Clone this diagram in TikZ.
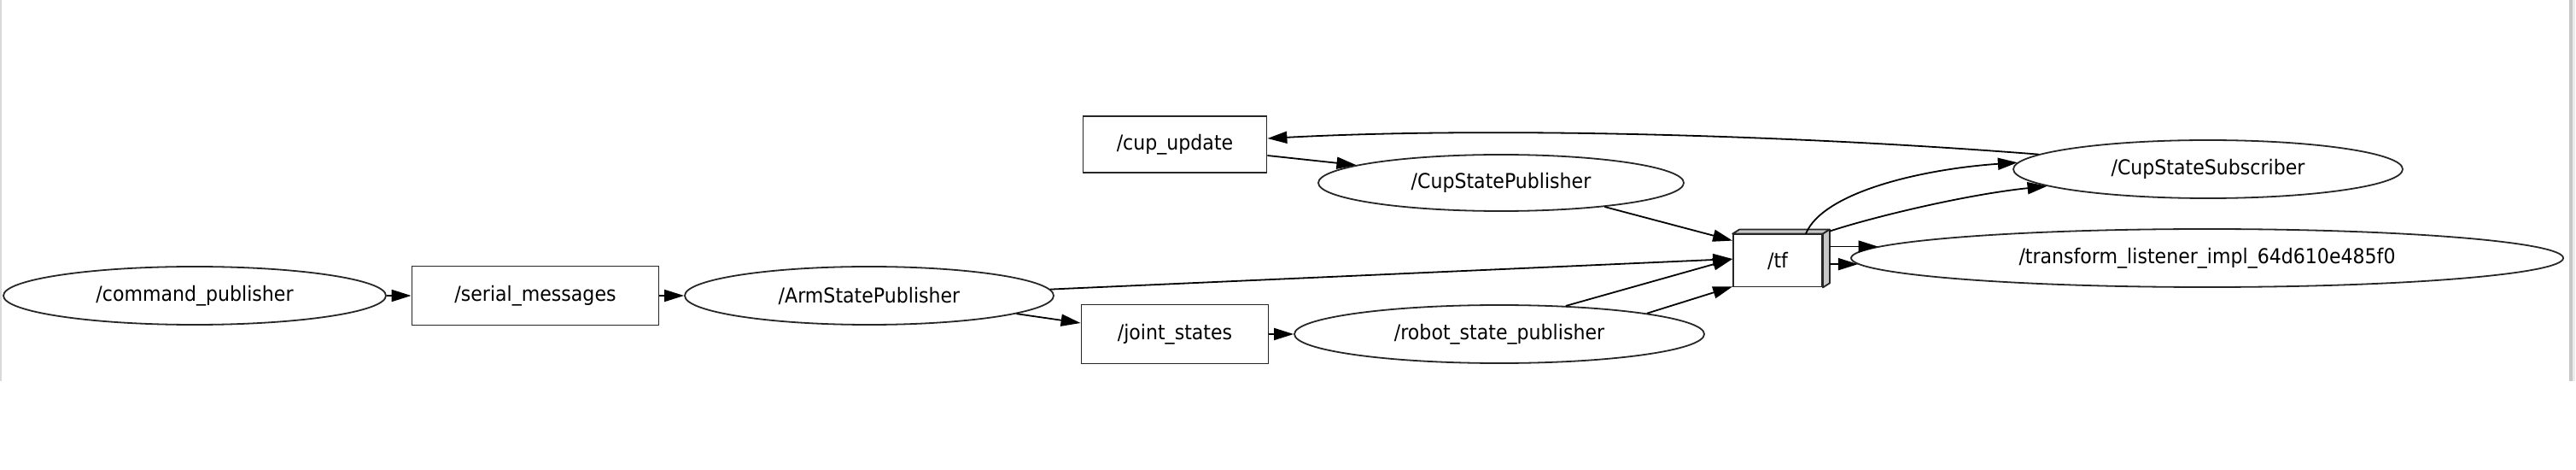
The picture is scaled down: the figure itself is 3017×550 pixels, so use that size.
\documentclass[tikz,border=0pt]{standalone}
\usepackage{fontspec}
\setmainfont{DejaVu Sans}[FakeStretch=0.92]
\usetikzlibrary{shapes.geometric,arrows.meta,calc}
\tikzset{
  base/.style={draw=black!85,line width=0.9pt,inner sep=0pt,font=\fontsize{12pt}{14pt}\selectfont},
  nodeell/.style={base,ellipse},
  topicbox/.style={base,rectangle},
  edge/.style={draw=black,line width=0.9pt,-{Triangle[length=11.5pt,width=7pt]}},
  face/.style={draw=black!85,line width=0.9pt,fill=black!22,line join=round}
}
\newcommand{\zw}[1]{\makebox[0pt]{#1}}
\begin{document}
\begin{tikzpicture}[x=0.5pt,y=-0.5pt]
\useasboundingbox (0,0) rectangle (3017,550);
\fill[white] (0,0) rectangle (3017,550);
% frame lines
\fill[black!15] (0,0) rectangle (2,446);
\fill[black!22] (3009,0) rectangle (3013,446);
\fill[black!8] (3013,0) rectangle (3016,446);

% nodes
\node[nodeell,minimum width=224pt,minimum height=34pt] (cmd) at (228,346) {\zw{/command\_publisher}};
\node[topicbox,minimum width=144.5pt,minimum height=34.5pt] (serial) at (627,346) {/serial\_messages};
\node[nodeell,minimum width=216pt,minimum height=34pt] (arm) at (1018,346) {\zw{/ArmStatePublisher}};
\node[topicbox,minimum width=109.5pt,minimum height=34.5pt] (joint) at (1376,391) {/joint\_states};
\node[nodeell,minimum width=240pt,minimum height=34pt] (rsp) at (1756,391) {\zw{/robot\_state\_publisher}};
\node[topicbox,minimum width=107.5pt,minimum height=33pt] (cupup) at (1376,169) {/cup\_update};
\node[nodeell,minimum width=214pt,minimum height=33pt] (cpub) at (1758,214) {\zw{/CupStatePublisher}};
\node[topicbox,minimum width=52pt,minimum height=30.5pt] (tf) at (2082,305) {/tf};
\node[nodeell,minimum width=228pt,minimum height=34pt] (csub) at (2586,198) {\zw{/CupStateSubscriber}};
\node[nodeell,minimum width=417pt,minimum height=34pt] (tl) at (2585,302) {\zw{/transform\_listener\_impl\_64d610e485f0}};

% 3d faces of /tf
\draw[face] (tf.north west) -- ($(tf.north west)+(8,-5)$) -- ($(tf.north east)+(8,-5)$) -- (tf.north east) -- cycle;
\draw[face] (tf.north east) -- ($(tf.north east)+(8,-5)$) -- ($(tf.south east)+(8,-5)$) -- (tf.south east) -- cycle;
\coordinate (tfside) at ($(tf.east)+(8,0)$);

% edges
\draw[edge] (cmd.east) -- (serial.west);
\draw[edge] (serial.east) -- (arm.west);
\draw[edge] (arm.-7) -- ($(joint.west)+(0,-13)$);
\draw[edge] (arm.2) -- ($(tf.west)+(0,-2)$);
\draw[edge] (joint.east) -- (rsp.west);
\draw[edge] (rsp.23) -- ($(tf.west)+(0,-2)$);
\draw[edge] (rsp.8) -- ($(tf.south west)+(0,-1)$);
\draw[edge] (cpub.-13) -- ($(tf.north west)+(0,8)$);
\draw[edge] ($(cupup.east)+(0,13)$) -- (cpub.173);
\draw[edge] (csub.175.5) .. controls (2100,158) and (1750,148) .. ($(cupup.east)+(0,-7)$);
\draw[edge] ($(tf.north east)+(-20,0)$) .. controls (2135,225) and (2250,198) .. (csub.178.7);
\draw[edge] ($(tf.north east)+(8,-3)$) .. controls (2190,255) and (2300,228) .. (csub.186.6);
\draw[edge] (tfside |- tl.178.57) -- (tl.178.57);
\draw[edge] (tfside |- tl.181.43) -- (tl.181.43);
\end{tikzpicture}
\end{document}
